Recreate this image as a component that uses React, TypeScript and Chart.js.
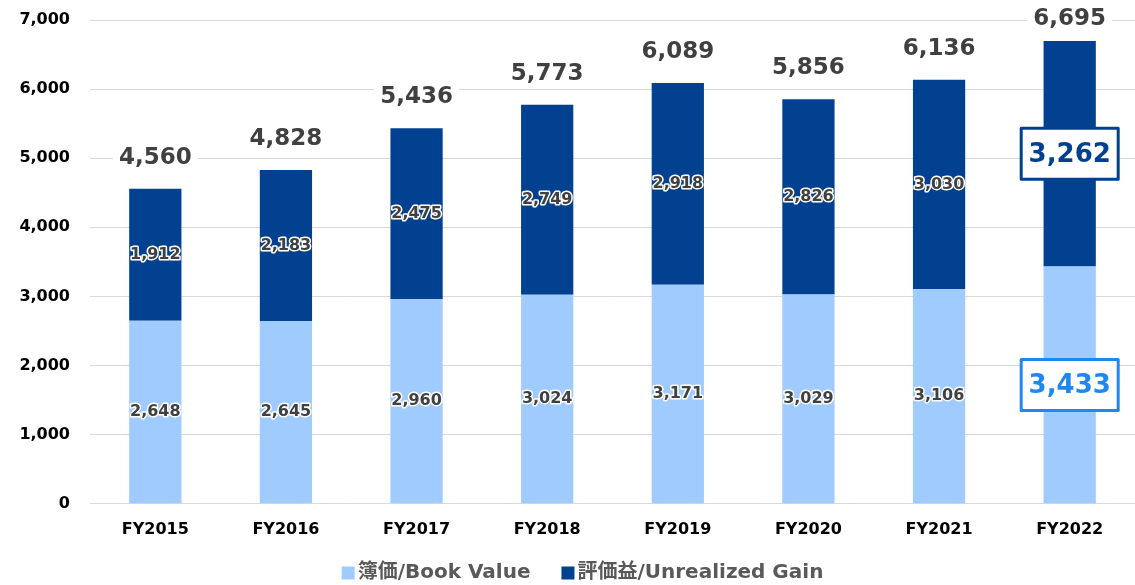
import React, { useEffect, useRef } from "react";
import { Chart, registerables } from "chart.js";

Chart.register(...registerables);

const categories = ["FY2015", "FY2016", "FY2017", "FY2018", "FY2019", "FY2020", "FY2021", "FY2022"];
const bookValues = [2648, 2645, 2960, 3024, 3171, 3029, 3106, 3433];
const gainValues = [1912, 2183, 2475, 2749, 2918, 2826, 3030, 3262];
const totalLabels = [4560, 4828, 5436, 5773, 6089, 5856, 6136, 6695];
const seriesNames = ["簿価/Book Value", "評価益/Unrealized Gain"];
const highlightIndex = 7;

const FONT = "'DejaVu Sans', 'Noto Sans CJK JP', sans-serif";
const LIGHT = "#a0cbfe";
const DARK = "#02418f";
const BOX_COLORS = ["#1f87f0", "#02418f"];
const TEXT = "#404040";

const fmt = (v: number) => v.toLocaleString("en-US");

const labelPlugin = {
  id: "barLabels",
  afterDatasetsDraw(chart: any) {
    const ctx = chart.ctx as CanvasRenderingContext2D;
    ctx.save();
    ctx.textAlign = "center";
    ctx.textBaseline = "middle";
    chart.data.datasets.forEach((ds: any, di: number) => {
      const meta = chart.getDatasetMeta(di);
      meta.data.forEach((bar: any, i: number) => {
        const { x, y, base } = bar.getProps(["x", "y", "base"], true);
        const cy = (y + base) / 2;
        const text = fmt(ds.data[i]);
        if (i === highlightIndex) {
          ctx.font = `bold 26px ${FONT}`;
          const w = 97;
          const h = 51;
          ctx.fillStyle = "#ffffff";
          ctx.fillRect(x - w / 2, cy - h / 2, w, h);
          ctx.lineWidth = 3;
          ctx.strokeStyle = BOX_COLORS[di];
          ctx.strokeRect(x - w / 2, cy - h / 2, w, h);
          ctx.fillStyle = BOX_COLORS[di];
          ctx.fillText(text, x, cy + 1);
        } else {
          ctx.font = `bold 16px ${FONT}`;
          ctx.lineWidth = 3;
          ctx.lineJoin = "round";
          ctx.strokeStyle = "#ffffff";
          ctx.strokeText(text, x, cy);
          ctx.fillStyle = TEXT;
          ctx.fillText(text, x, cy);
        }
      });
    });
    const topMeta = chart.getDatasetMeta(chart.data.datasets.length - 1);
    ctx.font = `bold 23px ${FONT}`;
    topMeta.data.forEach((bar: any, i: number) => {
      const text = fmt(totalLabels[i]);
      const cy = Math.max(bar.y - 32, 18);
      const w = ctx.measureText(text).width + 12;
      ctx.fillStyle = "#ffffff";
      ctx.fillRect(bar.x - w / 2, cy - 14, w, 28);
      ctx.fillStyle = TEXT;
      ctx.fillText(text, bar.x, cy + 1);
    });
    ctx.restore();
  },
};

const legendPlugin = {
  id: "customLegend",
  afterDraw(chart: any) {
    const ctx = chart.ctx as CanvasRenderingContext2D;
    ctx.save();
    ctx.font = `bold 20px ${FONT}`;
    ctx.textBaseline = "middle";
    ctx.textAlign = "left";
    const box = 13;
    const gapText = 3;
    const gapItem = 31;
    const items = chart.data.datasets.map((ds: any) => ({
      text: ds.label as string,
      color: ds.backgroundColor as string,
      w: ctx.measureText(ds.label).width,
    }));
    const total = items.reduce((s: number, it: any) => s + box + gapText + it.w, 0) + gapItem * (items.length - 1);
    let x = 582.5 - total / 2;
    const cy = 573;
    items.forEach((it: any) => {
      ctx.fillStyle = it.color;
      ctx.fillRect(x, cy - box / 2, box, box);
      x += box + gapText;
      ctx.fillStyle = "#595959";
      ctx.fillText(it.text, x, cy);
      x += it.w + gapItem;
    });
    ctx.restore();
  },
};

export default function App() {
  const canvasRef = useRef<HTMLCanvasElement | null>(null);

  useEffect(() => {
    document.body.style.margin = "0";
    const canvas = canvasRef.current;
    if (!canvas) return;
    const chart = new Chart(canvas, {
      type: "bar",
      data: {
        labels: categories,
        datasets: [
          {
            label: seriesNames[0],
            data: bookValues,
            backgroundColor: LIGHT,
            borderWidth: 0,
            barPercentage: 0.8,
            categoryPercentage: 0.5,
          },
          {
            label: seriesNames[1],
            data: gainValues,
            backgroundColor: DARK,
            borderWidth: 0,
            barPercentage: 0.8,
            categoryPercentage: 0.5,
          },
        ],
      },
      options: {
        animation: false,
        responsive: true,
        maintainAspectRatio: false,
        layout: { padding: { top: 20, right: 0, left: 0, bottom: 30 } },
        plugins: {
          tooltip: { enabled: false },
          legend: { display: false },
        },
        scales: {
          x: {
            stacked: true,
            grid: { display: false, drawTicks: false },
            border: { display: true, color: "#d9d9d9", width: 1 },
            ticks: {
              color: "#000000",
              padding: 16,
              font: { family: FONT, size: 16, weight: "bold" },
            },
          },
          y: {
            stacked: true,
            min: 0,
            max: 7000,
            afterFit: (scale: any) => {
              scale.width = 90;
              scale.paddingTop = 0;
              scale.paddingBottom = 0;
            },
            grid: { color: "#d9d9d9", drawTicks: false, lineWidth: 1 },
            border: { display: false },
            ticks: {
              stepSize: 1000,
              padding: 20,
              color: "#000000",
              font: { family: FONT, size: 16, weight: "bold" },
              callback: (v: any) => fmt(Number(v)),
            },
          },
        },
      },
      plugins: [labelPlugin, legendPlugin],
    });
    return () => chart.destroy();
  }, []);

  return (
    <div style={{ position: "absolute", left: 0, top: 0, width: 1135, height: 585 }}>
      <canvas ref={canvasRef} />
    </div>
  );
}
